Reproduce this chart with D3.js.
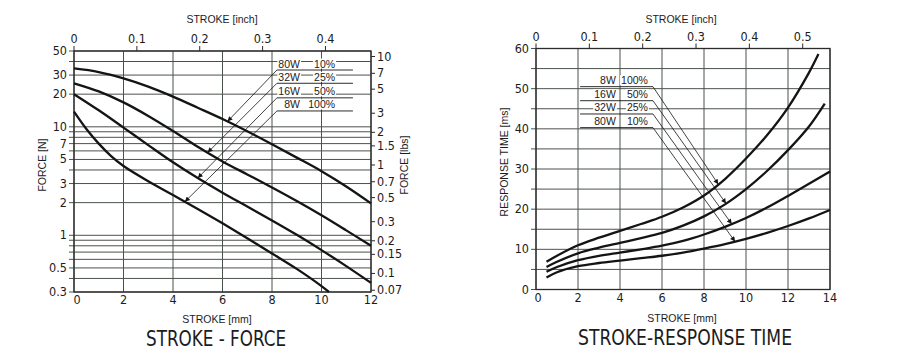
<!DOCTYPE html>
<html>
<head>
<meta charset="utf-8">
<script src="https://cdn.jsdelivr.net/npm/d3@7"></script>
<style>
  body { margin: 0; background: #fff; }
  svg text { font-family: "Liberation Sans Narrow", "DejaVu Sans Condensed", "Liberation Sans", sans-serif; fill: #1c1c1c; }
  svg text.plain { font-family: "Liberation Sans", Arial, sans-serif; }
</style>
</head>
<body>
<svg id="chart" width="900" height="352"></svg>
<script>
// ---- STROKE - FORCE data (stroke in mm, force in N) ----
const forceStrokeA = [0, 1, 2, 3, 4, 5, 6, 7, 8, 9, 10, 11, 12];
const force80W = [34.5, 32, 28, 23.5, 19, 15, 11.8, 9.1, 6.9, 5.2, 3.9, 2.82, 1.97];
const force32W = [25.2, 21.2, 16.8, 12.6, 9.15, 6.55, 4.8, 3.64, 2.76, 2.07, 1.53, 1.11, 0.8];
const force16W = [20, 14.2, 9.84, 6.78, 4.71, 3.37, 2.47, 1.84, 1.37, 1.01, 0.73, 0.52, 0.364];
const forceStrokeB = [0, 0.5, 1, 1.5, 2, 3, 4, 5, 6, 7, 8, 9, 10, 10.3];
const force8W = [13.8, 9.55, 7.0, 5.37, 4.35, 3.15, 2.35, 1.75, 1.29, 0.94, 0.68, 0.49, 0.34, 0.3];

// ---- STROKE - RESPONSE TIME data (stroke in mm, time in ms) ----
const respStroke = [0.5, 1, 2, 3, 4, 5, 6, 7, 8, 9, 10, 11, 12, 13, 14];
const resp8WStroke = [0.5, 1, 2, 3, 4, 5, 6, 7, 8, 9, 10, 11, 12, 13, 13.45];
const resp16WStroke = [0.5, 1, 2, 3, 4, 5, 6, 7, 8, 9, 10, 11, 12, 13, 13.75];
const resp8W = [6.9, 8.4, 11, 12.9, 14.6, 16.3, 18.1, 20.4, 23.4, 27.5, 32.6, 38.4, 45.3, 54.0, 58.6];
const resp16W = [5.6, 6.9, 9.0, 10.4, 11.6, 12.8, 14.1, 15.9, 18.2, 21.2, 25.0, 29.5, 34.7, 40.6, 46.3];
const resp32W = [4.4, 5.6, 7.3, 8.4, 9.2, 10, 10.9, 12.1, 13.7, 15.6, 17.8, 20.4, 23.3, 26.3, 29.4];
const resp80W = [3.0, 4.3, 5.8, 6.6, 7.2, 7.8, 8.4, 9.2, 10.2, 11.3, 12.6, 14.1, 15.8, 17.7, 19.8];

// ---- ticks and grid ----
const forceGridN = [50, 40, 30, 20, 10, 9, 8, 7, 6, 5, 4, 3, 2, 1, 0.9, 0.8, 0.7, 0.6, 0.5, 0.4, 0.3];
const forceTicksN = [50, 30, 20, 10, 7, 5, 3, 2, 1, 0.5, 0.3];
const forceTicksLbs = [10, 7, 5, 3, 2, 1.5, 1, 0.7, 0.5, 0.3, 0.2, 0.15, 0.1, 0.07];
const forceTicksMm = [0, 2, 4, 6, 8, 10, 12];
const forceTicksInch = [0, 0.1, 0.2, 0.3, 0.4];
const respTicksMm = [0, 2, 4, 6, 8, 10, 12, 14];
const respTicksInch = [0, 0.1, 0.2, 0.3, 0.4, 0.5];
const respTicks = [0, 10, 20, 30, 40, 50, 60];
const respGrid = [0, 5, 10, 15, 20, 25, 30, 35, 40, 45, 50, 55, 60];

const N_PER_LBS = 4.448;
const MM_PER_INCH = 25.4;

// Series and their label annotations (label anchor in data units)
const forceCurves = [
  { w: "80W", p: "10%", xs: forceStrokeA, ys: force80W, tip: 6.2, lineY: 33.4 },
  { w: "32W", p: "25%", xs: forceStrokeA, ys: force32W, tip: 5.4, lineY: 25.2 },
  { w: "16W", p: "50%", xs: forceStrokeA, ys: force16W, tip: 5.0, lineY: 18.5 },
  { w: "8W", p: "100%", xs: forceStrokeB, ys: force8W, tip: 4.48, lineY: 14.0 }
];
const respCurves = [
  { w: "8W", p: "100%", xs: resp8WStroke, ys: resp8W, tip: 8.68, lineY: 50.5 },
  { w: "16W", p: "50%", xs: resp16WStroke, ys: resp16W, tip: 9.05, lineY: 47.0 },
  { w: "32W", p: "25%", xs: respStroke, ys: resp32W, tip: 9.32, lineY: 43.7 },
  { w: "80W", p: "10%", xs: respStroke, ys: resp80W, tip: 9.48, lineY: 40.3 }
];

const GRID = "#4b524b";
const INK = "#141414";

const svg = d3.select("#chart");

// arrow head for the leader lines
svg.append("defs").append("marker")
  .attr("id", "arr")
  .attr("viewBox", "0 0 10 10")
  .attr("refX", 10).attr("refY", 5)
  .attr("markerWidth", 7).attr("markerHeight", 5)
  .attr("markerUnits", "userSpaceOnUse")
  .attr("orient", "auto")
  .append("path").attr("d", "M0,0 L10,5 L0,10 z").attr("fill", INK);

// text with a white box behind it (the labels break the grid lines)
function boxedText(g, x, y, str, anchor, size) {
  const t = g.append("text")
    .attr("class", "plain")
    .attr("x", x).attr("y", y)
    .attr("text-anchor", anchor)
    .attr("font-size", size)
    .text(str);
  const b = t.node().getBBox();
  g.insert("rect", () => t.node())
    .attr("x", b.x - 1).attr("y", b.y + 1)
    .attr("width", b.width + 2).attr("height", b.height - 2)
    .attr("fill", "#fff");
  return t;
}

// point on a curve at a given stroke (linear between data points, in pixels)
function pointOn(c, xv, xScale, yScale) {
  let i = d3.bisectRight(c.xs, xv);
  i = Math.max(1, Math.min(i, c.xs.length - 1));
  const t = (xv - c.xs[i - 1]) / (c.xs[i] - c.xs[i - 1]);
  const y0 = yScale(c.ys[i - 1]), y1 = yScale(c.ys[i]);
  return [xScale(xv), y0 + t * (y1 - y0)];
}

const smooth = d3.line().curve(d3.curveCatmullRom.alpha(0.5));

// =================== LEFT: STROKE - FORCE ===================
{
  const x = d3.scaleLinear().domain([0, 12]).range([74, 371]);
  const y = d3.scaleLog().domain([0.3, 50]).range([292, 51]);
  const g = svg.append("g");

  // horizontal grid (N)
  g.selectAll(".hg").data(forceGridN).join("line")
    .attr("x1", x(0) - 5).attr("x2", x(12))
    .attr("y1", d => y(d)).attr("y2", d => y(d))
    .attr("stroke", GRID).attr("stroke-width", 1);

  // vertical grid (mm)
  g.selectAll(".vg").data(forceTicksMm).join("line")
    .attr("x1", d => x(d)).attr("x2", d => x(d))
    .attr("y1", y(50)).attr("y2", y(0.3))
    .attr("stroke", GRID).attr("stroke-width", 1);

  // frame
  g.append("rect")
    .attr("x", x(0)).attr("y", y(50))
    .attr("width", x(12) - x(0)).attr("height", y(0.3) - y(50))
    .attr("fill", "none").attr("stroke", "#2a2a2a").attr("stroke-width", 1.3);

  // left ticks (N)
  g.selectAll(".ln").data(forceTicksN).join("text")
    .attr("x", x(0) - 7).attr("y", d => y(d) + 4)
    .attr("text-anchor", "end").attr("font-size", 12.5)
    .text(d => d);

  // right ticks (lbs)
  g.selectAll(".rt").data(forceTicksLbs).join("line")
    .attr("x1", x(12)).attr("x2", x(12) + 4)
    .attr("y1", d => y(d * N_PER_LBS)).attr("y2", d => y(d * N_PER_LBS))
    .attr("stroke", "#2a2a2a");
  g.selectAll(".rl").data(forceTicksLbs).join("text")
    .attr("x", x(12) + 6).attr("y", d => y(d * N_PER_LBS) + 4)
    .attr("font-size", 12.5)
    .text(d => d);

  // bottom ticks (mm)
  g.selectAll(".bl").data(forceTicksMm).join("text")
    .attr("x", d => x(d) + (d === 0 ? 3 : 0)).attr("y", 304)
    .attr("text-anchor", "middle").attr("font-size", 12.5)
    .text(d => d);

  // top axis (inch)
  g.selectAll(".tt").data(forceTicksInch).join("line")
    .attr("x1", d => x(d * MM_PER_INCH)).attr("x2", d => x(d * MM_PER_INCH))
    .attr("y1", y(50) - 5).attr("y2", y(50))
    .attr("stroke", "#2a2a2a");
  g.selectAll(".tl").data(forceTicksInch).join("text")
    .attr("x", d => x(d * MM_PER_INCH)).attr("y", 43)
    .attr("text-anchor", "middle").attr("font-size", 12.5)
    .text(d => d);

  // curves
  g.selectAll(".curve").data(forceCurves).join("path")
    .attr("fill", "none").attr("stroke", INK).attr("stroke-width", 2.3)
    .attr("d", c => smooth(c.xs.map((v, i) => [x(v), y(c.ys[i])])));

  // labels with leader lines and arrows
  forceCurves.forEach(c => {
    const ly = y(c.lineY);
    g.append("line")
      .attr("x1", x(8.2)).attr("x2", x(11.27))
      .attr("y1", ly).attr("y2", ly)
      .attr("stroke", INK).attr("stroke-width", 0.9);
    const tip = pointOn(c, c.tip, x, y);
    g.append("line")
      .attr("x1", x(8.2)).attr("y1", ly)
      .attr("x2", tip[0]).attr("y2", tip[1])
      .attr("stroke", INK).attr("stroke-width", 0.8)
      .attr("marker-end", "url(#arr)");
    boxedText(g, x(9.13), ly - 2.5, c.w, "end", 10.5);
    boxedText(g, x(10.55), ly - 2.5, c.p, "end", 10.5);
  });

  // axis titles
  g.append("text").attr("class", "plain")
    .attr("x", 222).attr("y", 23).attr("text-anchor", "middle")
    .attr("font-size", 10.5).text("STROKE [inch]");
  g.append("text").attr("class", "plain")
    .attr("x", 217).attr("y", 323).attr("text-anchor", "middle")
    .attr("font-size", 10.5).text("STROKE [mm]");
  g.append("text").attr("class", "plain")
    .attr("transform", "translate(46,165) rotate(-90)")
    .attr("text-anchor", "middle").attr("font-size", 10.5).text("FORCE [N]");
  g.append("text").attr("class", "plain")
    .attr("transform", "translate(408,165) rotate(-90)")
    .attr("text-anchor", "middle").attr("font-size", 10.5).text("FORCE [lbs]");

  // chart title
  g.append("text")
    .attr("x", 216).attr("y", 346).attr("text-anchor", "middle")
    .attr("font-size", 20.5)
    .attr("textLength", 140).attr("lengthAdjust", "spacingAndGlyphs")
    .text("STROKE - FORCE");
}

// =================== RIGHT: STROKE - RESPONSE TIME ===================
{
  const x = d3.scaleLinear().domain([0, 14]).range([536, 830]);
  const y = d3.scaleLinear().domain([0, 60]).range([289.5, 48.5]);
  const g = svg.append("g");

  // horizontal grid every 5 ms
  g.selectAll(".hg").data(respGrid).join("line")
    .attr("x1", x(0) - 5).attr("x2", x(14))
    .attr("y1", d => y(d)).attr("y2", d => y(d))
    .attr("stroke", GRID).attr("stroke-width", 1);

  // vertical grid every 2 mm
  g.selectAll(".vg").data(respTicksMm).join("line")
    .attr("x1", d => x(d)).attr("x2", d => x(d))
    .attr("y1", y(60)).attr("y2", y(0))
    .attr("stroke", GRID).attr("stroke-width", 1);

  // frame
  g.append("rect")
    .attr("x", x(0)).attr("y", y(60))
    .attr("width", x(14) - x(0)).attr("height", y(0) - y(60))
    .attr("fill", "none").attr("stroke", "#2a2a2a").attr("stroke-width", 1.3);

  // left ticks (ms)
  g.selectAll(".ln").data(respTicks).join("text")
    .attr("x", x(0) - 7).attr("y", d => y(d) + 4)
    .attr("text-anchor", "end").attr("font-size", 12.5)
    .text(d => d);

  // bottom ticks (mm)
  g.selectAll(".bl").data(respTicksMm).join("text")
    .attr("x", d => x(d) + (d === 0 ? 2 : 0)).attr("y", 301.5)
    .attr("text-anchor", "middle").attr("font-size", 12.5)
    .text(d => d);

  // top axis (inch)
  g.selectAll(".tt").data(respTicksInch).join("line")
    .attr("x1", d => x(d * MM_PER_INCH)).attr("x2", d => x(d * MM_PER_INCH))
    .attr("y1", y(60) - 5).attr("y2", y(60))
    .attr("stroke", "#2a2a2a");
  g.selectAll(".tl").data(respTicksInch).join("text")
    .attr("x", d => x(d * MM_PER_INCH)).attr("y", 41)
    .attr("text-anchor", "middle").attr("font-size", 12.5)
    .text(d => d);

  // curves
  g.selectAll(".curve").data(respCurves).join("path")
    .attr("fill", "none").attr("stroke", INK).attr("stroke-width", 2.3)
    .attr("d", c => smooth(c.xs.map((v, i) => [x(v), y(c.ys[i])])));

  // labels with leader lines and arrows
  respCurves.forEach(c => {
    const ly = y(c.lineY);
    g.append("line")
      .attr("x1", x(2.1)).attr("x2", x(5.57))
      .attr("y1", ly).attr("y2", ly)
      .attr("stroke", INK).attr("stroke-width", 0.9);
    const tip = pointOn(c, c.tip, x, y);
    g.append("line")
      .attr("x1", x(5.57)).attr("y1", ly)
      .attr("x2", tip[0]).attr("y2", tip[1])
      .attr("stroke", INK).attr("stroke-width", 0.8)
      .attr("marker-end", "url(#arr)");
    boxedText(g, x(3.8), ly - 2.5, c.w, "end", 10.5);
    boxedText(g, x(5.33), ly - 2.5, c.p, "end", 10.5);
  });

  // axis titles
  g.append("text").attr("class", "plain")
    .attr("x", 681).attr("y", 23).attr("text-anchor", "middle")
    .attr("font-size", 10.5).text("STROKE [inch]");
  g.append("text").attr("class", "plain")
    .attr("x", 682).attr("y", 322).attr("text-anchor", "middle")
    .attr("font-size", 10.5).text("STROKE [mm]");
  g.append("text").attr("class", "plain")
    .attr("transform", "translate(508,162) rotate(-90)")
    .attr("text-anchor", "middle").attr("font-size", 10.5).text("RESPONSE TIME [ms]");

  // chart title
  g.append("text")
    .attr("x", 685).attr("y", 345).attr("text-anchor", "middle")
    .attr("font-size", 20.5)
    .attr("textLength", 214).attr("lengthAdjust", "spacingAndGlyphs")
    .text("STROKE-RESPONSE TIME");
}
</script>
</body>
</html>
